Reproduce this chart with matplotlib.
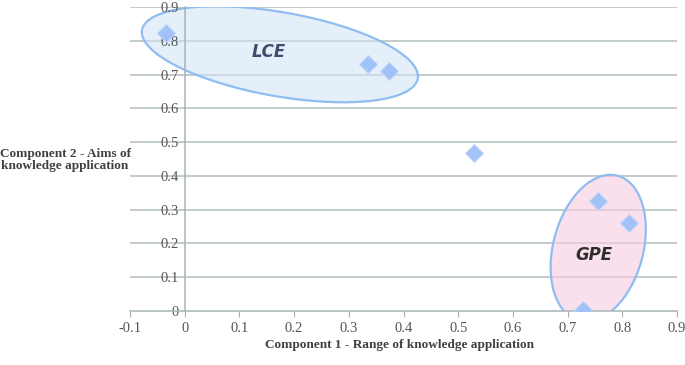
import matplotlib
matplotlib.use("Agg")
import matplotlib.pyplot as plt
from matplotlib.patches import Ellipse
from matplotlib.transforms import ScaledTranslation
import numpy as np

# data
comp1 = [-0.034, 0.335, 0.374, 0.529, 0.756, 0.812, 0.728]
comp2 = [0.822, 0.731, 0.710, 0.468, 0.325, 0.260, 0.003]
xticks = [-0.1, 0, 0.1, 0.2, 0.3, 0.4, 0.5, 0.6, 0.7, 0.8, 0.9]
yticks = [0, 0.1, 0.2, 0.3, 0.4, 0.5, 0.6, 0.7, 0.8, 0.9]
groups = ["LCE", "GPE"]
group_centers = [(0.174, 0.760), (0.756, 0.186)]
group_label_pos = [(0.153, 0.766), (0.749, 0.166)]

fig = plt.figure(figsize=(6.85, 3.65), dpi=100)
ax = fig.add_axes([130/685, 1-311/365, (677-130)/685, (311-7)/365])
ax.set_xlim(-0.1, 0.9)
ax.set_ylim(0, 0.9)

serif = "Liberation Serif"
grid_c = "#b3bfbf"
for y in yticks[1:]:
    ax.axhline(y, color=grid_c, lw=1.1, zorder=0)

for s in ["top", "right"]:
    ax.spines[s].set_visible(False)
ax.spines["left"].set_position(("data", 0))
ax.spines["bottom"].set_position(("data", 0))
for s in ["left", "bottom"]:
    ax.spines[s].set_color("#a8b4b4")
    ax.spines[s].set_linewidth(1.1)

ax.set_xticks(xticks)
ax.set_xticklabels([f"{t:g}" for t in xticks])
ax.set_yticks(yticks)
ax.set_yticklabels([f"{t:g}" for t in yticks])
ax.tick_params(axis="x", direction="out", length=4, color="#a8b4b4", pad=4,
               labelsize=10.5, labelcolor="#555555")
ax.tick_params(axis="y", length=0, pad=4, labelsize=10.5, labelcolor="#555555")
for lab in ax.get_xticklabels() + ax.get_yticklabels():
    lab.set_fontfamily(serif)

# ellipses (in points, anchored at data centres)
ell_specs = [
    dict(w=280, h=84, ang=-10, fc=(0.82, 0.89, 0.97, 0.55), ec="#8fbdf2"),
    dict(w=150, h=90, ang=75, fc=(0.97, 0.80, 0.88, 0.6), ec="#8fbdf2"),
]
for (cx, cy), sp in zip(group_centers, ell_specs):
    tr = fig.dpi_scale_trans + ScaledTranslation(cx, cy, ax.transData)
    e = Ellipse((0, 0), sp["w"]/100, sp["h"]/100, angle=sp["ang"],
                transform=tr, facecolor=sp["fc"], edgecolor=sp["ec"], lw=1.6, zorder=1)
    ax.add_patch(e)

ax.scatter(comp1, comp2, marker="D", s=85, color="#9dc0f8", edgecolor="#c2d7fb",
           linewidth=0.8, zorder=3, alpha=0.95)

label_colors = ["#3d4c6e", "#2e2e2e"]
for g, (lx, ly), c in zip(groups, group_label_pos, label_colors):
    ax.text(lx, ly, g, ha="center", va="center", fontsize=12, fontweight="bold",
            fontstyle="italic", color=c, family="DejaVu Sans", zorder=4)

fig.text(400/685, 1-345/365, "Component 1 - Range of knowledge application",
         ha="center", va="center", fontsize=9.5, fontweight="bold", color="#404040",
         family=serif)
fig.text(65/685, 1-160/365, "Component 2 - Aims of\nknowledge application",
         ha="center", va="center", fontsize=9.5, fontweight="bold", color="#404040",
         family=serif, linespacing=1.1)

fig.savefig("out.png", dpi=100)
